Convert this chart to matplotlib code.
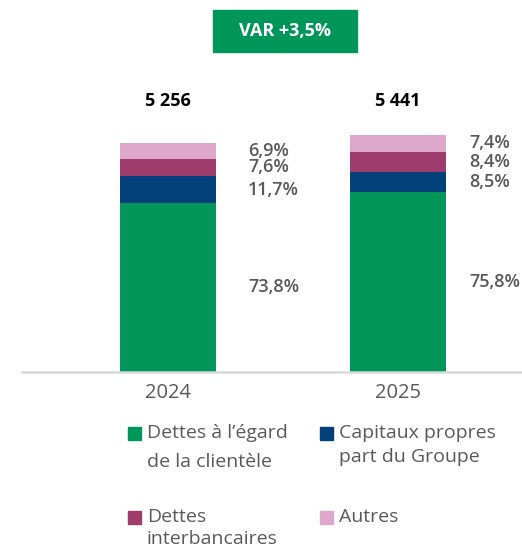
import numpy as np
import matplotlib
matplotlib.use("Agg")
import matplotlib.pyplot as plt
from matplotlib.patches import Rectangle
from matplotlib.transforms import blended_transform_factory

plt.rcParams["font.family"] = ["Open Sans", "DejaVu Sans"]

# --- datos ---
annees = ["2024", "2025"]
totaux = [5256, 5441]
totaux_txt = ["5 256", "5 441"]
categories = ["Dettes à l’égard\nde la clientèle", "Capitaux propres\npart du Groupe",
              "Dettes\ninterbancaires", "Autres"]
parts = {
    "clientele": [73.8, 75.8],
    "capitaux": [11.7, 8.5],
    "interbancaires": [7.6, 8.4],
    "autres": [6.9, 7.4],
}
variation = "VAR +3,5%"

couleurs = ["#00965a", "#02407a", "#9e3d6c", "#dda6cb"]
GRIS = "#595959"

W, H = 522, 547
fig = plt.figure(figsize=(W / 100, H / 100), dpi=100)

def fx(x):
    return x / W

def fy(y):
    return 1 - y / H

# axes: de x=22 a 522, de y=60 a 372 (pixeles)
ax = fig.add_axes([fx(22), fy(372), fx(500), (372 - 60) / H])
ax.set_xlim(-0.635, 1.539)
ax.set_ylim(0, 7160)

x = np.arange(len(annees))
bottom = np.zeros(len(annees))
offsets = [0.348, 0.309]
for (cle, pct), col in zip(parts.items(), couleurs):
    vals = np.array(totaux) * np.array(pct) / 100
    ax.bar(x, vals, bottom=bottom, width=0.42, color=col, linewidth=0)
    for i in range(len(annees)):
        ax.text(x[i] + offsets[i], bottom[i] + vals[i] / 2,
                f"{pct[i]:.1f}%".replace(".", ","),
                ha="left", va="center", fontsize=13, color=GRIS,
                fontweight="semibold")
    bottom += vals

# totaux au-dessus
tr = blended_transform_factory(ax.transData, fig.transFigure)
for i in range(len(annees)):
    ax.text(x[i], fy(101), totaux_txt[i], transform=tr, ha="center",
            va="center", fontsize=13, fontweight="bold", color="black")

for s in ["top", "right", "left"]:
    ax.spines[s].set_visible(False)
ax.spines["bottom"].set_color("#d9d9d9")
ax.spines["bottom"].set_linewidth(1.8)
ax.set_yticks([])
ax.set_xticks(x)
ax.set_xticklabels(annees, fontsize=14.5, color=GRIS)
ax.tick_params(axis="x", length=0, pad=8)

# encadre VAR
fig.patches.append(Rectangle((fx(213), fy(52)), fx(144), (52 - 10) / H,
                             transform=fig.transFigure, color="#00965a"))
fig.text(fx(285), fy(31), variation, ha="center", va="center",
         fontsize=13, fontweight="bold", color="white")

# legende
pos_leg = [(128, 433, 462), (320, 433, 457), (128, 517, 539), (320, 517, 539)]
for (lx, ly1, ly2), lab, col in zip(pos_leg, categories, couleurs):
    fig.patches.append(Rectangle((fx(lx), fy(ly1 + 6.5)), fx(13), 13 / H,
                                 transform=fig.transFigure, color=col))
    for ligne, ly in zip(lab.split("\n"), (ly1, ly2)):
        fig.text(fx(lx + 19), fy(ly), ligne, ha="left", va="center",
                 fontsize=14, color=GRIS)

fig.savefig("out.png", dpi=100)
